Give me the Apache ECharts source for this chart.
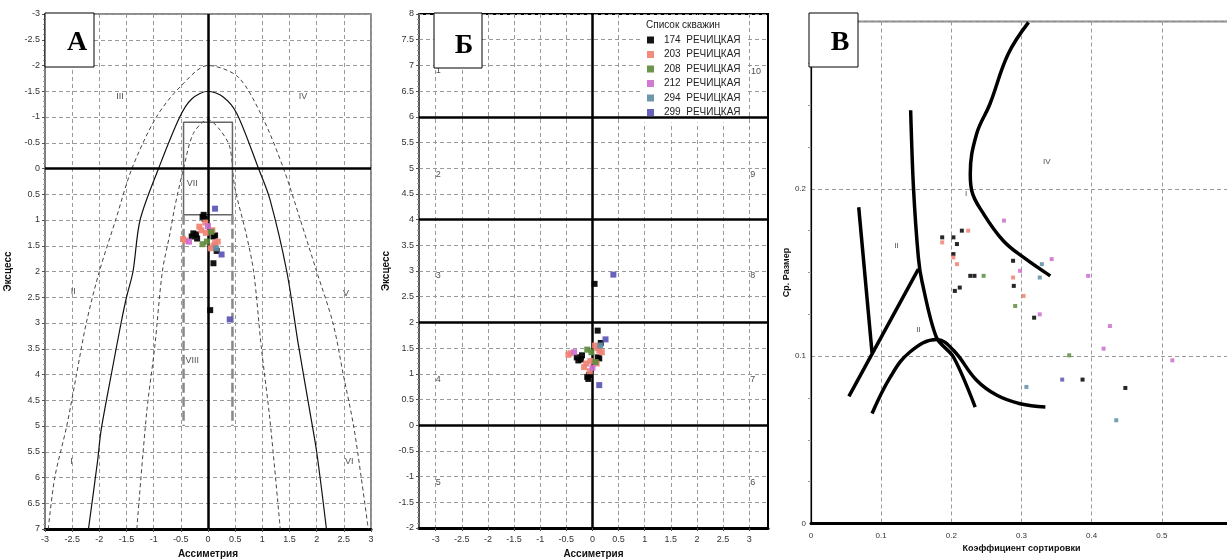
<!DOCTYPE html>
<html>
<head>
<meta charset="utf-8">
<script src="https://cdn.jsdelivr.net/npm/echarts@6/dist/echarts.min.js"></script>
<style>
  html, body { margin: 0; padding: 0; background: #fff; }
  #chart { width: 1227px; height: 559px; }
</style>
</head>
<body>
<div id="chart"></div>
<script>
// скважины
const wellIds = ['174', '203', '208', '212', '294', '299'];
const wellNames = wellIds.map(id => id + '  РЕЧИЦКАЯ');
const wellColors = ['#000000', '#f08274', '#5e8c3c', '#cc6fd0', '#5f8ea6', '#5a55b5'];

// асимметрия / эксцесс (панели А и Б)
const skewKurt174 = [[-0.08, 0.9], [-0.06, 0.98], [-0.1, 0.94], [-0.27, 1.26], [-0.3, 1.32], [-0.22, 1.28], [-0.2, 1.36], [0.1, 1.32], [0.13, 1.3], [0.16, 1.6], [0.1, 1.84], [0.04, 2.75]];
const skewKurt203 = [[-0.42, 1.4], [-0.46, 1.37], [-0.16, 1.13], [-0.12, 1.2], [-0.05, 1.05], [-0.04, 1.25], [0.1, 1.5], [0.13, 1.45], [0.05, 1.55], [0.18, 1.42], [0.08, 1.2]];
const skewKurt208 = [[-0.1, 1.47], [0.06, 1.23], [-0.02, 1.42]];
const skewKurt212 = [[-0.35, 1.42], [0.0, 1.12]];
const skewKurt294 = [[0.15, 1.55]];
const skewKurt299 = [[0.25, 1.67], [0.13, 0.78], [0.4, 2.93]];

// коэффициент сортировки / ср. размер (панель В)
const sortSize174 = [[0.187, 0.171], [0.203, 0.171], [0.215, 0.175], [0.208, 0.167], [0.203, 0.161], [0.227, 0.148], [0.233, 0.148], [0.205, 0.139], [0.212, 0.141], [0.288, 0.157], [0.289, 0.142], [0.318, 0.123], [0.387, 0.086], [0.448, 0.081]];
const sortSize203 = [[0.187, 0.168], [0.224, 0.175], [0.203, 0.159], [0.208, 0.155], [0.288, 0.147], [0.303, 0.136]];
const sortSize208 = [[0.246, 0.148], [0.291, 0.13], [0.368, 0.1005]];
const sortSize212 = [[0.275, 0.181], [0.343, 0.158], [0.298, 0.151], [0.326, 0.125], [0.395, 0.148], [0.426, 0.118], [0.417, 0.1045], [0.515, 0.0975]];
const sortSize294 = [[0.329, 0.155], [0.326, 0.147], [0.307, 0.0816], [0.435, 0.0617]];
const sortSize299 = [[0.358, 0.086]];

const skewKurt = [skewKurt174, skewKurt203, skewKurt208, skewKurt212, skewKurt294, skewKurt299];
const sortSize = [sortSize174, sortSize203, sortSize208, sortSize212, sortSize294, sortSize299];

// границы полей на панели А
const outerDashA = [[-2.94, 7], [-2.82, 6], [-2.6, 5], [-2.42, 4], [-2.24, 3], [-2.0, 2], [-1.7, 1], [-1.4, 0], [-0.95, -1], [-0.5, -1.6], [0, -2], [0.55, -1.78], [1.0, -1], [1.39, 0], [1.7, 1], [2.0, 2], [2.3, 3], [2.49, 4], [2.68, 5], [2.82, 6], [2.95, 7]];
const solidA = [[-2.2, 7], [-2.03, 5.66], [-1.97, 5.1], [-1.78, 4], [-1.6, 3], [-1.5, 2.5], [-1.38, 2], [-1.25, 1], [-0.91, 0], [-0.52, -1], [-0.3, -1.35], [0, -1.5], [0.28, -1.39], [0.53, -1.07], [0.93, 0], [1.14, 0.6], [1.45, 2], [1.66, 3.4], [1.88, 4.75], [2.0, 5.5], [2.18, 7]];
const innerDashA = [[-1.31, 7], [-1.13, 4.75], [-0.98, 3.46], [-0.84, 2], [-0.7, 1.26], [-0.61, 0.74], [-0.45, 0], [-0.27, -0.68], [0, -0.95], [0.22, -0.75], [0.4, -0.42], [0.49, 0.35], [0.7, 1.26], [0.84, 2], [0.98, 3.46], [1.14, 4.88], [1.33, 7]];
const rectVII = [[-0.45, 0.9], [-0.45, -0.9], [0.45, -0.9], [0.45, 0.9], [-0.45, 0.9]];
const leftVIII = [[-0.45, 0.9], [-0.45, 5]];
const rightVIII = [[0.45, 0.9], [0.45, 5]];
const zonesA = ['I', 'II', 'III', 'IV', 'V', 'VI', 'VII', 'VIII'];
const zonesAAt = [[-2.51, 5.69], [-2.48, 2.39], [-1.62, -1.39], [1.75, -1.39], [2.54, 2.42], [2.6, 5.69], [-0.29, 0.29], [-0.29, 3.72]];

// панель Б
const zonesB = ['1', '2', '3', '4', '5', '6', '7', '8', '9', '10'];
const zonesBAt = [[-2.95, 6.9], [-2.95, 4.87], [-2.95, 2.92], [-2.95, 0.88], [-2.95, -1.12], [3.07, -1.12], [3.07, 0.88], [3.07, 2.92], [3.07, 4.87], [3.13, 6.88]];
const kurtLinesB = [0, 2, 4, 6];
const ticksSkewB = [-3, -2.5, -2, -1.5, -1, -0.5, 0, 0.5, 1, 1.5, 2, 2.5, 3];

// панель В
const lineC1 = [[0.068, 0.189], [0.087, 0.102]];
const lineC2 = [[0.054, 0.076], [0.153, 0.152]];
const curveC3 = [[0.142, 0.247], [0.146, 0.201], [0.153, 0.159], [0.158, 0.145], [0.179, 0.111], [0.203, 0.0995], [0.234, 0.0696]];
const curveC4 = [[0.087, 0.0657], [0.113, 0.0875], [0.141, 0.1025], [0.179, 0.11], [0.203, 0.1035], [0.236, 0.0856], [0.265, 0.0766], [0.298, 0.0716], [0.334, 0.0696]];
const curveC5 = [[0.31, 0.2995], [0.281, 0.2806], [0.255, 0.2507], [0.236, 0.2328], [0.227, 0.209], [0.229, 0.199], [0.246, 0.185], [0.274, 0.169], [0.303, 0.159], [0.341, 0.148]];
const zonesC = ['II', 'I', 'IV', 'II'];
const zonesCAt = [[0.122, 0.166], [0.221, 0.197], [0.336, 0.216], [0.153, 0.116]];

const FONT = '"Liberation Sans", Arial, sans-serif';
const chart = echarts.init(document.getElementById('chart'));

const splitDash = { show: true, lineStyle: { color: '#9a9a9a', type: [4, 3], width: 1 } };
const tickLabel = { fontFamily: FONT, fontSize: 9, color: '#333' };
const nameStyle = { fontFamily: FONT, fontWeight: 'bold', fontSize: 10, color: '#111' };

function curve(data, xi, color, width, type, smooth) {
  return {
    type: 'line', xAxisIndex: xi, yAxisIndex: xi, data: data,
    showSymbol: false, symbol: 'none', smooth: smooth, silent: true, z: 3,
    lineStyle: { color: color, width: width, type: type }
  };
}

function zoneLabels(names, at, xi, fontSize, lines) {
  return {
    type: 'scatter', xAxisIndex: xi, yAxisIndex: xi, silent: true, z: 3,
    symbolSize: 0,
    data: names.map((n, i) => ({ name: n, value: at[i] })),
    label: { show: true, position: 'inside', formatter: '{b}', fontFamily: FONT, fontSize: fontSize, color: '#222' },
    markLine: lines ? {
      silent: true, symbol: 'none', label: { show: false },
      lineStyle: { color: '#000', width: 2.5, type: 'solid' },
      data: lines
    } : undefined
  };
}

const series = [];
// панель А
series.push(curve(outerDashA, 0, '#444', 1, [4, 3], 0.3));
series.push(curve(solidA, 0, '#111', 1.2, 'solid', 0.3));
series.push(curve(innerDashA, 0, '#444', 1, [4, 3], 0.3));
series.push(curve(rectVII, 0, '#666', 1.5, 'solid', false));
series.push(curve(leftVIII, 0, '#888', 2.5, [10, 4], false));
series.push(curve(rightVIII, 0, '#888', 2.5, [10, 4], false));
series.push(zoneLabels(zonesA, zonesAAt, 0, 9, [{ yAxis: 0 }, { xAxis: 0 }]));
// панель Б
series.push(zoneLabels(zonesB, zonesBAt, 1, 9, kurtLinesB.map(v => ({ yAxis: v })).concat([{ xAxis: 0 }])));
// панель В
series.push(curve(lineC1, 2, '#000', 3.5, 'solid', false));
series.push(curve(lineC2, 2, '#000', 3.5, 'solid', false));
series.push(curve(curveC3, 2, '#000', 3.5, 'solid', 0.3));
series.push(curve(curveC4, 2, '#000', 3.5, 'solid', 0.4));
series.push(curve(curveC5, 2, '#000', 3.5, 'solid', 0.4));
series.push(zoneLabels(zonesC, zonesCAt, 2, 8, null));

// точки скважин
wellNames.forEach((name, i) => {
  [0, 1].forEach(g => series.push({
    name: name, type: 'scatter', xAxisIndex: g, yAxisIndex: g, data: skewKurt[i],
    symbol: 'rect', symbolSize: 6, z: 5, itemStyle: { color: wellColors[i], opacity: 0.92 }
  }));
  series.push({
    name: name, type: 'scatter', xAxisIndex: 2, yAxisIndex: 2, data: sortSize[i],
    symbol: 'rect', symbolSize: 4, z: 5, itemStyle: { color: wellColors[i], opacity: 0.85 }
  });
});

const option = {
  animation: false,
  backgroundColor: '#fff',
  grid: [
    { left: 45, top: 14, width: 326, height: 515, show: true, borderColor: '#666', borderWidth: 1.5, outerBoundsMode: 'none' },
    { left: 419, top: 14, width: 349, height: 514, show: true, borderColor: '#000', borderWidth: 2, outerBoundsMode: 'none' },
    { left: 811, top: 21.5, width: 421, height: 502, show: true, borderColor: '#888', borderWidth: 2, outerBoundsMode: 'none' }
  ],
  xAxis: [
    {
      gridIndex: 0, type: 'value', min: -3, max: 3, interval: 0.5,
      name: 'Ассиметрия', nameLocation: 'middle', nameGap: 17, nameTextStyle: nameStyle,
      axisLine: { onZero: false, lineStyle: { color: '#000', width: 3 } },
      axisTick: { length: 3, lineStyle: { color: '#555' } },
      axisLabel: Object.assign({ margin: 6 }, tickLabel),
      splitLine: splitDash
    },
    {
      gridIndex: 1, type: 'value', min: -3.32, max: 3.36,
      name: 'Ассиметрия', nameLocation: 'middle', nameGap: 18, nameTextStyle: nameStyle,
      axisLine: { onZero: false, lineStyle: { color: '#000', width: 3 } },
      axisTick: { length: 3, customValues: ticksSkewB, lineStyle: { color: '#555' } },
      axisLabel: Object.assign({ margin: 7, customValues: ticksSkewB }, tickLabel),
      splitLine: splitDash
    },
    {
      gridIndex: 2, type: 'value', min: 0, max: 0.6, interval: 0.1,
      name: 'Коэффициент сортировки', nameLocation: 'middle', nameGap: 17,
      nameTextStyle: Object.assign({}, nameStyle, { fontSize: 9 }),
      axisLine: { onZero: false, lineStyle: { color: '#000', width: 3 } },
      axisTick: { show: false },
      axisLabel: Object.assign({ margin: 8, showMaxLabel: false }, tickLabel, { fontSize: 8 }),
      splitLine: splitDash
    }
  ],
  yAxis: [
    {
      gridIndex: 0, type: 'value', min: -3, max: 7, interval: 0.5, inverse: true,
      name: 'Эксцесс', nameLocation: 'middle', nameGap: 32, nameTextStyle: nameStyle,
      axisLine: { onZero: false, lineStyle: { color: '#777', width: 1.5 } },
      axisTick: { length: 3, lineStyle: { color: '#555' } },
      minorTick: { show: true, splitNumber: 5, length: 2, lineStyle: { color: '#999' } },
      axisLabel: Object.assign({ margin: 5 }, tickLabel),
      splitLine: splitDash
    },
    {
      gridIndex: 1, type: 'value', min: -2, max: 8, interval: 0.5,
      name: 'Эксцесс', nameLocation: 'middle', nameGap: 28, nameTextStyle: nameStyle,
      axisLine: { onZero: false, lineStyle: { color: '#777', width: 1.5 } },
      axisTick: { length: 3, lineStyle: { color: '#555' } },
      minorTick: { show: true, splitNumber: 5, length: 2, lineStyle: { color: '#999' } },
      axisLabel: Object.assign({ margin: 5 }, tickLabel),
      splitLine: splitDash
    },
    {
      gridIndex: 2, type: 'value', min: 0, max: 0.3, interval: 0.1,
      name: 'Ср. Размер', nameLocation: 'middle', nameGap: 20,
      nameTextStyle: Object.assign({}, nameStyle, { fontSize: 9 }),
      axisLine: { onZero: false, lineStyle: { color: '#000', width: 1.2 } },
      axisTick: { show: false },
      minorTick: { show: true, splitNumber: 4, length: 3, lineStyle: { color: '#999' } },
      axisLabel: Object.assign({ margin: 5, showMaxLabel: false }, tickLabel, { fontSize: 8 }),
      splitLine: splitDash
    }
  ],
  legend: {
    data: wellNames, orient: 'vertical', left: 642, top: 15,
    padding: [19, 6, 4, 5], itemGap: 2.5, itemWidth: 7, itemHeight: 7, icon: 'rect',
    backgroundColor: '#fff', selectedMode: false,
    textStyle: { fontFamily: FONT, fontSize: 10, color: '#222', lineHeight: 12, padding: [0, 0, 0, 5] }
  },
  graphic: [
    { type: 'text', x: 683, y: 25, z: 100, style: { text: 'Список скважин', font: '10px ' + FONT, fill: '#222', align: 'center', verticalAlign: 'middle' } },
    { type: 'rect', z: 100, shape: { x: 45, y: 13, width: 49, height: 54 }, style: { fill: '#fff', stroke: '#000', lineWidth: 1 } },
    { type: 'text', x: 77, y: 43, z: 101, style: { text: 'А', font: 'bold 28px "Liberation Serif", serif', fill: '#000', align: 'center', verticalAlign: 'middle' } },
    { type: 'rect', z: 100, shape: { x: 434, y: 13, width: 48, height: 55 }, style: { fill: '#fff', stroke: '#000', lineWidth: 1 } },
    { type: 'text', x: 464, y: 46, z: 101, style: { text: 'Б', font: 'bold 28px "Liberation Serif", serif', fill: '#000', align: 'center', verticalAlign: 'middle' } },
    { type: 'rect', z: 100, shape: { x: 809, y: 13, width: 49, height: 54 }, style: { fill: '#fff', stroke: '#000', lineWidth: 1 } },
    { type: 'text', x: 840, y: 43, z: 101, style: { text: 'В', font: 'bold 28px "Liberation Serif", serif', fill: '#000', align: 'center', verticalAlign: 'middle' } }
  ],
  series: series
};

chart.setOption(option);
</script>
</body>
</html>
